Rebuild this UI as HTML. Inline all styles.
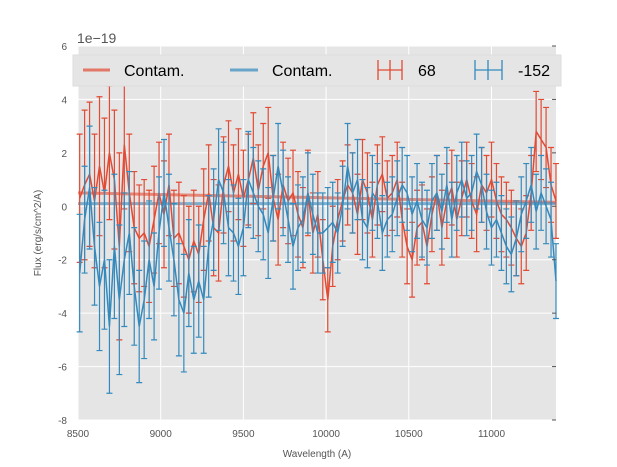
<!DOCTYPE html>
<html><head><meta charset="utf-8"><style>
body{margin:0;background:#fff;}
svg{display:block;font-family:"Liberation Sans",sans-serif;}
</style></head><body>
<svg id="chart" width="617" height="467" viewBox="0 0 617 467">
<rect x="78" y="46" width="478" height="374" fill="#e5e5e5"/>
<g id="grid"></g>
<g id="contam"></g>
<g id="series"></g>
<g id="axes"></g>
<text x="77" y="43" font-size="14" fill="#555">1e−19</text>
<text x="317" y="457" font-size="10" fill="#555" text-anchor="middle">Wavelength (A)</text>
<text transform="translate(41,233) rotate(-90)" font-size="10" fill="#555" text-anchor="middle">Flux (erg/s/cm^2/A)</text>
<g>
<rect x="73" y="55" width="488" height="31" fill="#e5e5e5" stroke="#ddd"/>
<line x1="83" y1="70" x2="110" y2="70" stroke="#E24A33" stroke-width="3" opacity="0.7"/>
<text x="124" y="76" font-size="16">Contam.</text>
<line x1="230" y1="70" x2="258" y2="70" stroke="#348ABD" stroke-width="3" opacity="0.7"/>
<text x="272" y="76" font-size="16">Contam.</text>
<g stroke="#E24A33" stroke-width="1.3">
<line x1="378" y1="70" x2="402" y2="70"/><line x1="390" y1="60" x2="390" y2="80"/><line x1="378" y1="60" x2="378" y2="80"/><line x1="402" y1="60" x2="402" y2="80"/></g>
<text x="418" y="76" font-size="16">68</text>
<g stroke="#348ABD" stroke-width="1.3">
<line x1="475" y1="70" x2="502" y2="70"/><line x1="488" y1="60" x2="488" y2="80"/><line x1="475" y1="60" x2="475" y2="80"/><line x1="502" y1="60" x2="502" y2="80"/></g>
<text x="518" y="76" font-size="16">-152</text>
</g>
</svg>
<script>
const xStart = 8510, xStep = 30;
const xTicks = [8500, 9000, 9500, 10000, 10500, 11000];
const yTicks = [-8, -6, -4, -2, 0, 2, 4, 6];
const red = [0.3,0.8,1.2,0.2,1.5,0.5,2.0, 1.0,-1.5,2.3,0.5,-0.8,-1.2,-1.0, -1.5,-0.5,0.5,-0.3,0.8,-1.2,-1.0, -1.5,-2.0,-1.3,-1.8,-0.5,0.5,-0.8, -1.0,0.8,1.5,0.5,1.2,0.3,1.0, 1.8,0.6,1.5,2.0,0.3,-0.5,0.8, 0.2,0.5,-0.3,-0.8,0.5,-1.0,-0.3, -2.0,-3.5,-1.5,-0.5,0.2,0.8,0.5, -0.3,1.0,0.5,-0.5,0.8,1.2,0.3, 0.5,1.0,-0.5,-1.5,-2.0,-0.8,-0.6, -1.5,-0.3,0.5,-0.8,0.2,0.7,-0.5, 0.3,1.0,0.2,-0.3,0.8,0.5,1.0, 0.2,-0.3,-0.5,-0.8,-1.2,-1.5,-1.0, 0.5,2.8,2.5,2.2,0.8,0.2];
const blue = [-2.5,-0.5,0.7,-1.5,-3.0,-2.0,-4.5, -1.5,-3.5,-2.0,-1.0,-3.0,-4.5,-3.5, -2.0,-3.0,-1.0,0.5,-0.8,-2.0,-3.5, -4.0,-2.5,-3.5,-2.8,-3.5,-1.5,-0.5, 1.0,0.5,-0.8,-1.0,-1.5,-0.8,1.0, 0.5,0.0,-0.3,-1.0,0.3,1.5,0.5, -0.5,-1.5,-0.8,-0.5,0.5,-0.3,-1.0, -1.0,-0.8,-0.6,-1.0,0.0,1.5,0.5, 1.0,-0.5,-0.8,0.5,0.2,-1.0,-0.5, -0.3,0.3,0.8,0.5,-0.3,0.2,-0.5, -0.8,0.2,0.5,-0.2,0.8,-0.5,0.5, 1.0,0.3,0.5,1.3,0.8,-0.2,-0.8, -0.5,-1.0,-1.5,-1.8,-1.2,-0.3,0.2, 0.8,-0.2,0.5,0.0,-0.5,-2.8];
const redErr = [2.4,2.8,2.7,2.5,2.6,2.8,2.5, 2.6,3.5,2.4,2.2,2.1,2.0,2.0, 2.1,2.0,1.9,2.0,1.9,1.8,1.9, 1.9,2.0,1.9,1.8,1.9,1.8,1.8, 1.8,1.8,1.7,1.8,1.7,1.8,1.7, 1.7,1.7,1.6,1.7,1.6,1.7,1.6, 1.6,1.6,1.6,1.5,1.6,1.5,1.6, 1.5,1.2,1.5,1.5,1.5,1.5,1.5, 1.5,1.5,1.5,1.4,1.5,1.4,1.4, 1.4,1.4,1.4,1.4,1.4,1.4,1.4, 1.4,1.4,1.4,1.4,1.4,1.4,1.4, 1.4,1.4,1.4,1.4,1.4,1.4,1.4, 1.4,1.4,1.4,1.4,1.4,1.4,1.4, 1.4,1.5,1.5,1.5,1.4,1.4];
const blueErr = [2.2,2.0,2.3,2.2,2.4,2.6,2.5, 2.7,2.8,2.5,2.3,2.2,2.1,2.2, 2.2,2.0,2.1,2.0,2.0,2.1,2.1, 2.2,2.0,2.0,2.1,2.0,1.9,1.9, 1.9,1.9,1.8,1.8,1.8,1.8,1.8, 1.7,1.7,1.7,1.7,1.6,1.6,1.6, 1.6,1.6,1.6,1.6,1.5,1.5,1.5, 1.5,1.5,1.5,1.5,1.5,1.6,1.5, 1.5,1.5,1.5,1.4,1.4,1.4,1.4, 1.4,1.4,1.4,1.4,1.4,1.4,1.4, 1.4,1.4,1.4,1.4,1.4,1.4,1.4, 1.4,1.4,1.4,1.4,1.4,1.4,1.4, 1.4,1.4,1.4,1.4,1.4,1.4,1.4, 1.4,1.4,1.4,1.4,1.4,1.4];
const contamRed = [0.5, 0.15];
const contamBlue = [0.1, 0.1];

const X0=78,X1=556,Y0=46,Y1=420,xmin=8500,xmax=11390,ymin=-8,ymax=6;
const sx=v=>X0+(v-xmin)/(xmax-xmin)*(X1-X0);
const sy=v=>Y1-(v-ymin)/(ymax-ymin)*(Y1-Y0);
const NS="http://www.w3.org/2000/svg";
function mk(tag,attrs,parent){const e=document.createElementNS(NS,tag);for(const k in attrs)e.setAttribute(k,attrs[k]);parent.appendChild(e);return e;}
const grid=document.getElementById('grid'),axes=document.getElementById('axes');
xTicks.forEach(t=>{
  const g=mk('line',{x1:sx(t),x2:sx(t),y1:Y0,y2:Y1,stroke:'#fff','stroke-width':1},grid);
  
  
  const l=mk('text',{x:sx(t),y:Y1+17,'font-size':10,fill:'#555','text-anchor':'middle'},axes);
  l.textContent=t;
  
  
});
yTicks.forEach(t=>{
  const g=mk('line',{x1:X0,x2:X1,y1:sy(t),y2:sy(t),stroke:'#fff','stroke-width':1},grid);
  
  
  mk('line',{x1:X1-4,x2:X1,y1:sy(t),y2:sy(t),stroke:'#555'},axes);
  const l=mk('text',{x:X0-11,y:sy(t)+4,'font-size':10,fill:'#555','text-anchor':'end'},axes);
  l.textContent=t;
  
  
});
const cg=document.getElementById('contam');
[[contamRed,'#E24A33','contam-red-line'],[contamBlue,'#348ABD','contam-blue-line']].forEach(([c,col,nm])=>{
  const l=mk('line',{x1:X0,x2:X1,y1:sy(c[0]),y2:sy(c[1]),stroke:col,'stroke-width':3,opacity:0.6},cg);
  
  
});
const sg=document.getElementById('series');
function series(vals,errs,col,nm){
  const g=mk('g',{stroke:col,'stroke-width':1.2,fill:'none'},sg);
  
  
  let d='';
  vals.forEach((v,i)=>{
    const x=sx(xStart+i*xStep);
    d+=(i?'L':'M')+x.toFixed(1)+','+sy(v).toFixed(1);
    const t=sy(Math.min(ymax,v+errs[i])),b=sy(Math.max(ymin,v-errs[i]));
    const e=mk('path',{d:`M${x},${t}V${b}M${x-3},${t}H${x+3}M${x-3},${b}H${x+3}`},g);
    
    
  });
  const p=mk('path',{d:d,'stroke-width':1.5},g);
  
  
}
series(red,redErr,'#E24A33','series-68');
series(blue,blueErr,'#348ABD','series-152');
</script>
</body></html>
